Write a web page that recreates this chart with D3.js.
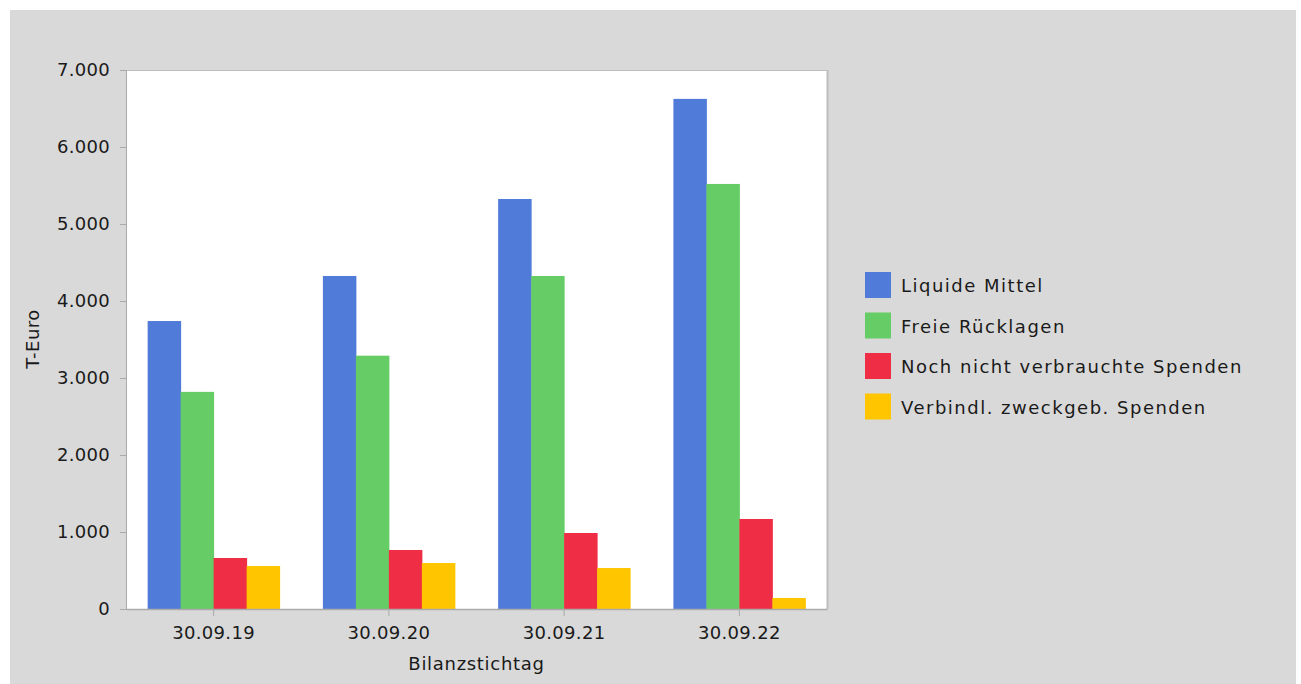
<!DOCTYPE html>
<html><head><meta charset="utf-8">
<script src="https://cdn.jsdelivr.net/npm/d3@7"></script>
<style>
html,body{margin:0;padding:0;background:#fff;}
text{font-family:"DejaVu Sans",sans-serif;fill:#1a1a1a;}
</style></head>
<body>
<svg id="c" width="1301" height="684"></svg>
<script>
const categories = ["30.09.19","30.09.20","30.09.21","30.09.22"];
const seriesNames = ["Liquide Mittel","Freie Rücklagen","Noch nicht verbrauchte Spenden","Verbindl. zweckgeb. Spenden"];
const liquideMittel = [3740, 4325, 5325, 6625];
const freieRuecklagen = [2820, 3290, 4325, 5520];
const nochNichtVerbraucht = [662, 766, 987, 1169];
const verbindlZweckgeb = [558, 597, 532, 143];
const yTicks = [0,1000,2000,3000,4000,5000,6000,7000];
const colors = ["#517bd8","#66cc66","#ef2d44","#ffc600"];

const seriesValues = [liquideMittel, freieRuecklagen, nochNichtVerbraucht, verbindlZweckgeb];
const svg = d3.select("#c");
svg.append("rect").attr("x",10).attr("y",10).attr("width",1286).attr("height",684).attr("fill","#d9d9d9");

const L=126,R=827,T=70,B=609;
const x0 = d3.scaleBand().domain(categories).range([L,R]).paddingInner(0.247).paddingOuter(0.1235);
const x1 = d3.scaleBand().domain(d3.range(4)).range([0,x0.bandwidth()]);
const y = d3.scaleLinear().domain([0,7000]).range([B,T]);
const fmt = v => d3.format(",")(v).replace(/,/g,".");

svg.append("rect").attr("x",L).attr("y",T).attr("width",R-L).attr("height",B-T).attr("fill","#fff");
// borders
svg.append("line").attr("x1",L).attr("x2",R).attr("y1",T+0.5).attr("y2",T+0.5).attr("stroke","#bdbdbd");
svg.append("line").attr("x1",R+0.5).attr("x2",R+0.5).attr("y1",T).attr("y2",B).attr("stroke","#bdbdbd").attr("stroke-width",2);

const g = svg.append("g");
categories.forEach((c,i)=>{
  seriesValues.forEach((s,j)=>{
    g.append("rect").attr("x",x0(c)+x1(j)).attr("width",x1.bandwidth()+0.5)
     .attr("y",y(s[i])).attr("height",B-y(s[i])).attr("fill",colors[j]);
  });
});

const ya = svg.append("g").attr("transform",`translate(${L},0)`)
  .call(d3.axisLeft(y).tickValues(yTicks).tickFormat(fmt).tickSize(6).tickPadding(10));
ya.select(".domain").attr("stroke","#aaaaaa");
ya.selectAll(".tick line").attr("stroke","#aaaaaa");
ya.selectAll("text").attr("font-size","18px").attr("letter-spacing","0.3px").attr("font-family","DejaVu Sans").attr("fill","#1a1a1a");

const xa = svg.append("g").attr("transform",`translate(0,${B})`)
  .call(d3.axisBottom(x0).tickSize(7).tickPadding(10).tickSizeOuter(0));
xa.select(".domain").attr("stroke","#aaaaaa").attr("stroke-width",1.5);
xa.selectAll(".tick line").attr("stroke","#aaaaaa");
xa.selectAll("text").attr("font-size","18px").attr("letter-spacing","0.3px").attr("font-family","DejaVu Sans").attr("fill","#1a1a1a");

svg.append("text").attr("x",(L+R)/2).attr("y",670).attr("text-anchor","middle").attr("font-size","18px").attr("letter-spacing","0.7px").text("Bilanzstichtag");
svg.append("text").attr("transform","translate(39,339) rotate(-90)").attr("text-anchor","middle").attr("font-size","18px").attr("letter-spacing","0.5px").text("T-Euro");

const lg = svg.append("g");
seriesNames.forEach((n,j)=>{
  const yy = 272 + j*40.5;
  lg.append("rect").attr("x",865).attr("y",yy).attr("width",26).attr("height",26).attr("fill",colors[j]);
  lg.append("text").attr("x",901).attr("y",yy+20).attr("font-size","18px").attr("letter-spacing","1.5px").text(n);
});
</script>
</body></html>
